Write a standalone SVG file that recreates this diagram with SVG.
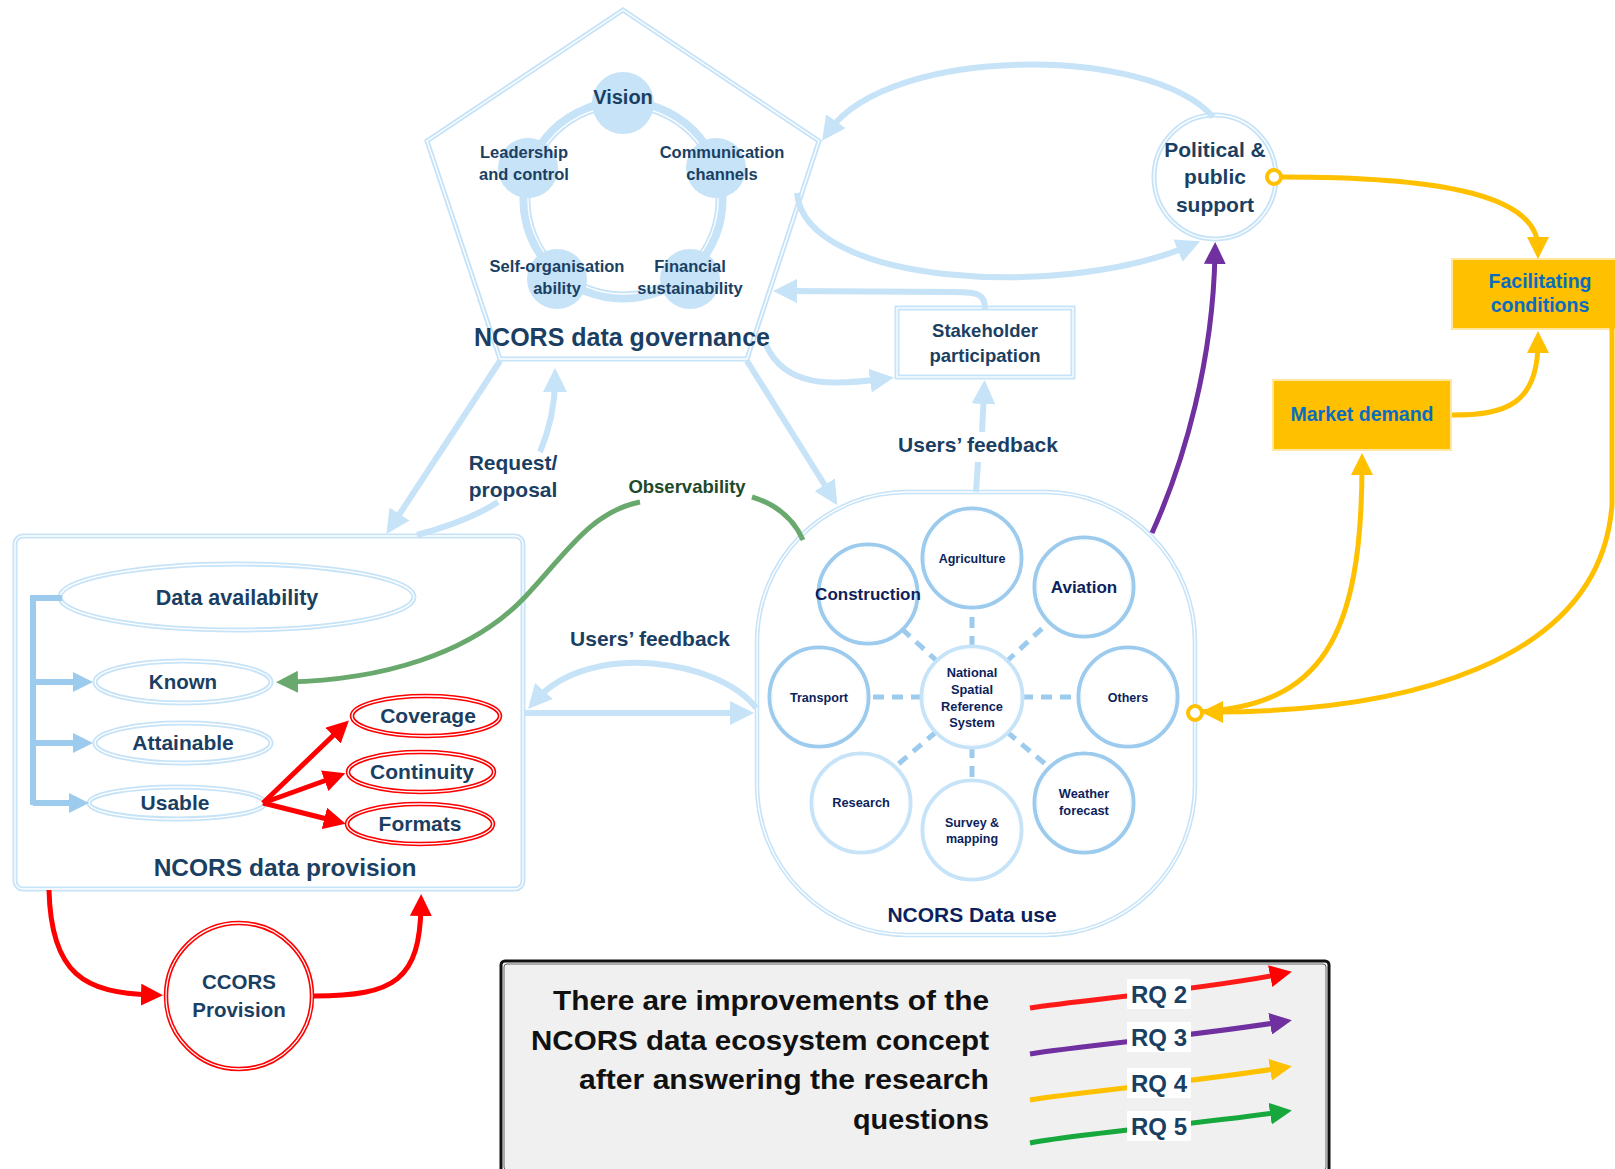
<svg xmlns="http://www.w3.org/2000/svg" width="1615" height="1169" viewBox="0 0 1615 1169">
  <style>
    .t { font-family: "Liberation Sans", Arial, sans-serif; font-weight: bold; text-anchor: middle; }
    .navy { fill: #1b3f63; }
    .dnavy { fill: #0d1f5c; }
    .lb { fill: none; stroke: #c6e3f8; stroke-width: 6; }
    .db { fill: none; stroke: #9dcbee; stroke-width: 6; }
    .inner { fill: none; stroke: #ffffff; stroke-width: 1.3; }
    .usec { fill: #ffffff; stroke: #9dcbee; stroke-width: 5; }
    .usel { fill: #ffffff; stroke: #c6e3f8; stroke-width: 5; }
    .dash { stroke: #9dcbee; stroke-width: 5; stroke-dasharray: 11 8; fill: none; }
    .red { fill: none; stroke: #ff0000; stroke-width: 5; }
    .redo { fill: #ffffff; stroke: #ff0000; stroke-width: 4.5; }
    .yel { fill: none; stroke: #ffc000; stroke-width: 5; }
    .ybox { fill: #ffc000; stroke: #ffe7a0; stroke-width: 2; }
    .ytext { fill: #0a6cc0; }
  </style>
  <defs>
    <marker id="aLB" viewBox="0 0 10 10" refX="5" refY="5" markerWidth="24" markerHeight="24" orient="auto" markerUnits="userSpaceOnUse"><path d="M0,0 L10,5 L0,10 Z" fill="#c6e3f8"/></marker>
    <marker id="aDB" viewBox="0 0 10 10" refX="5" refY="5" markerWidth="20" markerHeight="20" orient="auto" markerUnits="userSpaceOnUse"><path d="M0,0 L10,5 L0,10 Z" fill="#9dcbee"/></marker>
    <marker id="aG" viewBox="0 0 10 10" refX="5" refY="5" markerWidth="22" markerHeight="22" orient="auto" markerUnits="userSpaceOnUse"><path d="M0,0 L10,5 L0,10 Z" fill="#6aa96e"/></marker>
    <marker id="aR" viewBox="0 0 10 10" refX="5" refY="5" markerWidth="22" markerHeight="22" orient="auto" markerUnits="userSpaceOnUse"><path d="M0,0 L10,5 L0,10 Z" fill="#ff0000"/></marker>
    <marker id="aP" viewBox="0 0 10 10" refX="5" refY="5" markerWidth="22" markerHeight="22" orient="auto" markerUnits="userSpaceOnUse"><path d="M0,0 L10,5 L0,10 Z" fill="#7030a0"/></marker>
    <marker id="aY" viewBox="0 0 10 10" refX="5" refY="5" markerWidth="22" markerHeight="22" orient="auto" markerUnits="userSpaceOnUse"><path d="M0,0 L10,5 L0,10 Z" fill="#ffc000"/></marker>
    <marker id="aGr" viewBox="0 0 10 10" refX="5" refY="5" markerWidth="22" markerHeight="22" orient="auto" markerUnits="userSpaceOnUse"><path d="M0,0 L10,5 L0,10 Z" fill="#16a83c"/></marker>
  </defs>

  <rect width="1615" height="1169" fill="#ffffff"/>

  <!-- Governance pentagon with the five-part ring -->
  <g id="governance">
    <polygon points="623,10 819,141 747,359 500,359 427,141" fill="none" stroke="#c6e3f8" stroke-width="5"/>
    <polygon points="623,10 819,141 747,359 500,359 427,141" class="inner"/>
    <ellipse cx="623" cy="200" rx="98" ry="97" fill="none" stroke="#c6e3f8" stroke-width="11"/>
    <ellipse cx="623" cy="200" rx="95" ry="94" class="inner"/>
    <circle cx="623" cy="103" r="31" fill="#c6e3f8"/>
    <circle cx="528" cy="168" r="30" fill="#c6e3f8"/>
    <circle cx="716" cy="168" r="30" fill="#c6e3f8"/>
    <circle cx="557" cy="279" r="30" fill="#c6e3f8"/>
    <circle cx="690" cy="279" r="30" fill="#c6e3f8"/>
    <text class="t navy" x="623" y="104" font-size="20">Vision</text>
    <text class="t navy" x="524" y="158" font-size="16.5">Leadership</text>
    <text class="t navy" x="524" y="180" font-size="16.5">and control</text>
    <text class="t navy" x="722" y="158" font-size="16.5">Communication</text>
    <text class="t navy" x="722" y="180" font-size="16.5">channels</text>
    <text class="t navy" x="557" y="272" font-size="16.5">Self-organisation</text>
    <text class="t navy" x="557" y="294" font-size="16.5">ability</text>
    <text class="t navy" x="690" y="272" font-size="16.5">Financial</text>
    <text class="t navy" x="690" y="294" font-size="16.5">sustainability</text>
    <text class="t navy" x="622" y="346" font-size="25">NCORS data governance</text>
  </g>

  <!-- Political & public support -->
  <g id="political-support">
    <ellipse cx="1215" cy="177" rx="61" ry="62" fill="#ffffff" stroke="#c6e3f8" stroke-width="5"/>
    <ellipse cx="1215" cy="177" rx="61" ry="62" class="inner"/>
    <text class="t navy" x="1215" y="157" font-size="21">Political &amp;</text>
    <text class="t navy" x="1215" y="184" font-size="21">public</text>
    <text class="t navy" x="1215" y="212" font-size="21">support</text>
  </g>

  <!-- Stakeholder participation -->
  <g id="stakeholder">
    <rect x="897" y="308" width="176" height="69" fill="#ffffff" stroke="#c6e3f8" stroke-width="5"/>
    <rect x="897" y="308" width="176" height="69" class="inner"/>
    <text class="t navy" x="985" y="337" font-size="18.5">Stakeholder</text>
    <text class="t navy" x="985" y="362" font-size="18.5">participation</text>
  </g>

  <!-- Yellow condition boxes -->
  <g id="facilitating">
    <rect x="1452" y="259" width="175" height="70" class="ybox"/>
    <text class="t ytext" x="1540" y="288" font-size="19.5">Facilitating</text>
    <text class="t ytext" x="1540" y="312" font-size="19.5">conditions</text>
  </g>
  <g id="market-demand">
    <rect x="1273" y="380" width="178" height="70" class="ybox"/>
    <text class="t ytext" x="1362" y="421" font-size="19.5">Market demand</text>
  </g>

  <!-- Data provision -->
  <g id="provision">
    <rect x="15" y="536" width="508" height="353" rx="8" fill="#ffffff" stroke="#c6e3f8" stroke-width="5"/>
    <rect x="15" y="536" width="508" height="353" rx="8" class="inner"/>
    <text class="t navy" x="285" y="876" font-size="24.5">NCORS data provision</text>
  </g>
  <g id="data-availability">
    <ellipse cx="237" cy="597" rx="177" ry="33" fill="#ffffff" stroke="#c6e3f8" stroke-width="5"/>
    <ellipse cx="237" cy="597" rx="177" ry="33" class="inner"/>
    <text class="t navy" x="237" y="605" font-size="21.5">Data availability</text>
  </g>
  <g id="known">
    <ellipse cx="183" cy="682" rx="88" ry="21" fill="#ffffff" stroke="#c6e3f8" stroke-width="5"/>
    <ellipse cx="183" cy="682" rx="88" ry="21" class="inner"/>
    <text class="t navy" x="183" y="689" font-size="20.5">Known</text>
  </g>
  <g id="attainable">
    <ellipse cx="183" cy="743" rx="88" ry="20" fill="#ffffff" stroke="#c6e3f8" stroke-width="5"/>
    <ellipse cx="183" cy="743" rx="88" ry="20" class="inner"/>
    <text class="t navy" x="183" y="750" font-size="21">Attainable</text>
  </g>
  <g id="usable">
    <ellipse cx="177" cy="803" rx="88" ry="16" fill="#ffffff" stroke="#c6e3f8" stroke-width="5"/>
    <ellipse cx="177" cy="803" rx="88" ry="16" class="inner"/>
    <text class="t navy" x="175" y="810" font-size="21">Usable</text>
  </g>
  <g id="coverage">
    <ellipse cx="426" cy="716" rx="74" ry="20" class="redo"/>
    <ellipse cx="426" cy="716" rx="74" ry="20" class="inner"/>
    <text class="t navy" x="428" y="723" font-size="21">Coverage</text>
  </g>
  <g id="continuity">
    <ellipse cx="421" cy="772" rx="73" ry="20" class="redo"/>
    <ellipse cx="421" cy="772" rx="73" ry="20" class="inner"/>
    <text class="t navy" x="422" y="779" font-size="21">Continuity</text>
  </g>
  <g id="formats">
    <ellipse cx="420" cy="824" rx="73" ry="20" class="redo"/>
    <ellipse cx="420" cy="824" rx="73" ry="20" class="inner"/>
    <text class="t navy" x="420" y="831" font-size="21">Formats</text>
  </g>

  <!-- CCORS provision -->
  <g id="ccors">
    <circle cx="239" cy="996" r="73" class="redo"/>
    <circle cx="239" cy="996" r="73" class="inner"/>
    <text class="t navy" x="239" y="989" font-size="20.5">CCORS</text>
    <text class="t navy" x="239" y="1017" font-size="20.5">Provision</text>
  </g>

  <!-- Data use -->
  <g id="data-use">
    <rect x="757" y="492" width="438" height="443" rx="150" ry="150" fill="#ffffff" stroke="#c6e3f8" stroke-width="4.5"/>
    <rect x="757" y="492" width="438" height="443" rx="150" ry="150" class="inner"/>
    <text class="t dnavy" x="972" y="922" font-size="21">NCORS Data use</text>
  </g>

  <!-- Connectors -->
  <g id="connectors">
    <!-- data use spokes -->
    <line x1="972" y1="647" x2="972" y2="608" class="dash"/>
    <line x1="938" y1="662" x2="903" y2="630" class="dash"/>
    <line x1="1006" y1="662" x2="1049" y2="622" class="dash"/>
    <line x1="922" y1="697" x2="869" y2="697" class="dash"/>
    <line x1="1022" y1="697" x2="1079" y2="697" class="dash"/>
    <line x1="936" y1="732" x2="896" y2="766" class="dash"/>
    <line x1="972" y1="747" x2="972" y2="781" class="dash"/>
    <line x1="1007" y1="732" x2="1049" y2="767" class="dash"/>

    <!-- governance links -->
    <path class="lb" d="M500,361 L393,524" marker-end="url(#aLB)"/>
    <path class="lb" d="M417,535 C450,526 478,515 498,502"/>
    <path class="lb" d="M540,452 C550,428 555,405 555,380" marker-end="url(#aLB)"/>
    <path class="lb" d="M747,361 L831,495" marker-end="url(#aLB)"/>
    <path class="lb" d="M985,309 C985,294 978,292 955,292 L785,291" marker-end="url(#aLB)"/>
    <path class="lb" d="M766,345 C785,387 830,386 882,379" marker-end="url(#aLB)"/>
    <path class="lb" d="M976,492 L978,462"/>
    <path class="lb" d="M982,432 L984,392" marker-end="url(#aLB)"/>
    <path class="lb" d="M1213,117 C1150,45 890,45 829,131" marker-end="url(#aLB)"/>
    <path class="lb" d="M797,193 C805,285 1060,300 1189,246" marker-end="url(#aLB)"/>
    <path class="lb" d="M525,713 L742,713" marker-end="url(#aLB)"/>
    <path class="lb" d="M756,708 C720,660 590,640 536,700" marker-end="url(#aLB)"/>

    <!-- availability bracket -->
    <path class="db" d="M62,598 L33,598 L33,805"/>
    <path class="db" d="M33,682 L83,682" marker-end="url(#aDB)"/>
    <path class="db" d="M33,743 L83,743" marker-end="url(#aDB)"/>
    <path class="db" d="M33,803 L79,803" marker-end="url(#aDB)"/>

    <!-- observability -->
    <path d="M803,540 C792,515 772,503 752,497" fill="none" stroke="#6aa96e" stroke-width="5"/>
    <path d="M640,502 C590,512 565,555 525,597 C470,655 380,680 287,682" fill="none" stroke="#6aa96e" stroke-width="5" marker-end="url(#aG)"/>

    <!-- usable qualities -->
    <path class="red" d="M263,803 L341,728" marker-end="url(#aR)"/>
    <path class="red" d="M263,803 L335,777" marker-end="url(#aR)"/>
    <path class="red" d="M263,803 L335,821" marker-end="url(#aR)"/>

    <!-- CCORS loop -->
    <path class="red" d="M49,890 C51,975 85,993 152,995" marker-end="url(#aR)"/>
    <path class="red" d="M314,996 C395,996 420,980 421,905" marker-end="url(#aR)"/>

    <!-- purple: data use to political support -->
    <path d="M1152,533 C1185,460 1213,360 1215,253" fill="none" stroke="#7030a0" stroke-width="5" marker-end="url(#aP)"/>

    <!-- yellow links -->
    <path class="yel" d="M1282,177 C1420,177 1538,190 1538,248" marker-end="url(#aY)"/>
    <path class="yel" d="M1452,415 C1505,415 1538,405 1538,342" marker-end="url(#aY)"/>
    <path class="yel" d="M1200,712 C1320,705 1362,640 1362,464" marker-end="url(#aY)"/>
    <path class="yel" d="M1612,328 L1612,505 C1600,665 1400,712 1212,712" marker-end="url(#aY)"/>
    <circle cx="1274" cy="177" r="7" fill="#ffffff" stroke="#ffc000" stroke-width="4"/>
    <circle cx="1195" cy="713" r="7" fill="#ffffff" stroke="#ffc000" stroke-width="4"/>
  </g>

  <!-- connector labels -->
  <text class="t navy" x="513" y="470" font-size="21">Request/</text>
  <text class="t navy" x="513" y="497" font-size="21">proposal</text>
  <text class="t" x="687" y="493" font-size="18.5" fill="#1e4a2a">Observability</text>
  <text class="t navy" x="650" y="646" font-size="21">Users’ feedback</text>
  <text class="t navy" x="978" y="452" font-size="21">Users’ feedback</text>

  <!-- Data use sectors -->
  <g id="agriculture">
    <circle cx="972" cy="558" r="49" class="usec"/><circle cx="972" cy="558" r="47" class="inner"/>
    <text class="t dnavy" x="972" y="563" font-size="12.5">Agriculture</text>
  </g>
  <g id="construction">
    <circle cx="868" cy="594" r="49" class="usec"/><circle cx="868" cy="594" r="47" class="inner"/>
    <text class="t dnavy" x="868" y="600" font-size="17">Construction</text>
  </g>
  <g id="aviation">
    <circle cx="1084" cy="587" r="49" class="usec"/><circle cx="1084" cy="587" r="47" class="inner"/>
    <text class="t dnavy" x="1084" y="593" font-size="17">Aviation</text>
  </g>
  <g id="transport">
    <circle cx="819" cy="697" r="49" class="usec"/><circle cx="819" cy="697" r="47" class="inner"/>
    <text class="t dnavy" x="819" y="702" font-size="12.6">Transport</text>
  </g>
  <g id="nsrs">
    <circle cx="972" cy="697" r="50" class="usel"/><circle cx="972" cy="697" r="48" class="inner"/>
    <text class="t dnavy" x="972" y="677" font-size="12.8">National</text>
    <text class="t dnavy" x="972" y="694" font-size="12.8">Spatial</text>
    <text class="t dnavy" x="972" y="711" font-size="12.8">Reference</text>
    <text class="t dnavy" x="972" y="727" font-size="12.8">System</text>
  </g>
  <g id="others">
    <circle cx="1128" cy="697" r="49" class="usec"/><circle cx="1128" cy="697" r="47" class="inner"/>
    <text class="t dnavy" x="1128" y="702" font-size="12.5">Others</text>
  </g>
  <g id="research">
    <circle cx="861" cy="803" r="49" class="usel"/><circle cx="861" cy="803" r="47" class="inner"/>
    <text class="t dnavy" x="861" y="807" font-size="12.8">Research</text>
  </g>
  <g id="survey">
    <circle cx="972" cy="830" r="49" class="usel"/><circle cx="972" cy="830" r="47" class="inner"/>
    <text class="t dnavy" x="972" y="827" font-size="12.5">Survey &amp;</text>
    <text class="t dnavy" x="972" y="843" font-size="12.5">mapping</text>
  </g>
  <g id="weather">
    <circle cx="1084" cy="803" r="49" class="usec"/><circle cx="1084" cy="803" r="47" class="inner"/>
    <text class="t dnavy" x="1084" y="798" font-size="12.8">Weather</text>
    <text class="t dnavy" x="1084" y="815" font-size="12.8">forecast</text>
  </g>

  <!-- Research question legend -->
  <g id="legend">
    <rect x="501" y="961" width="828" height="212" rx="4" fill="#f0f0f0" stroke="#111111" stroke-width="3"/>
    <rect x="504" y="964" width="822" height="206" rx="3" fill="none" stroke="#444444" stroke-width="0.8"/>
    <g font-family="'Liberation Sans', Arial, sans-serif" font-weight="bold" font-size="28" fill="#111111" text-anchor="end">
      <text x="989" y="1010" textLength="436" lengthAdjust="spacingAndGlyphs">There are improvements of the</text>
      <text x="989" y="1050" textLength="458" lengthAdjust="spacingAndGlyphs">NCORS data ecosystem concept</text>
      <text x="989" y="1089" textLength="410" lengthAdjust="spacingAndGlyphs">after answering the research</text>
      <text x="989" y="1129" textLength="136" lengthAdjust="spacingAndGlyphs">questions</text>
    </g>
    <path d="M1030,1008 C1080,1000 1200,990 1281,974" fill="none" stroke="#ff1a1a" stroke-width="5" marker-end="url(#aR)"/>
    <path d="M1030,1054 C1080,1046 1200,1035 1281,1022" fill="none" stroke="#7030a0" stroke-width="5" marker-end="url(#aP)"/>
    <path d="M1030,1100 C1080,1092 1200,1081 1281,1068" fill="none" stroke="#ffc000" stroke-width="5" marker-end="url(#aY)"/>
    <path d="M1030,1143 C1080,1133 1200,1124 1281,1112" fill="none" stroke="#16a83c" stroke-width="5" marker-end="url(#aGr)"/>
    <g fill="#ffffff">
      <rect x="1127" y="979" width="64" height="30"/>
      <rect x="1127" y="1022" width="64" height="30"/>
      <rect x="1127" y="1068" width="64" height="30"/>
      <rect x="1127" y="1111" width="64" height="30"/>
    </g>
    <g class="t navy" font-size="24">
      <text x="1159" y="1003">RQ 2</text>
      <text x="1159" y="1046">RQ 3</text>
      <text x="1159" y="1092">RQ 4</text>
      <text x="1159" y="1135">RQ 5</text>
    </g>
  </g>
</svg>
